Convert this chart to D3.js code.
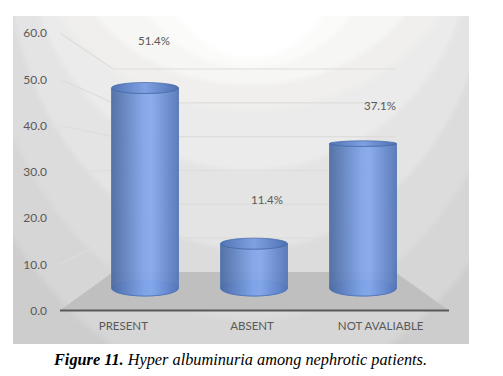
<!DOCTYPE html>
<html>
<head>
<meta charset="utf-8">
<script src="https://cdnjs.cloudflare.com/ajax/libs/d3/7.8.5/d3.min.js"></script>
<style>
  html, body { margin: 0; padding: 0; background: #fff; }
  svg { display: block; }
  text { font-family: Lato, "Open Sans", sans-serif; }
</style>
</head>
<body>
<div id="chart"></div>
<script>
const categories = ["PRESENT", "ABSENT", "NOT AVALIABLE"];
const percents = [51.4, 11.4, 37.1];
const yTicks = [0, 10, 20, 30, 40, 50, 60];

const width = 503, height = 376;

const svg = d3.select("#chart").append("svg")
    .attr("width", width)
    .attr("height", height);

const defs = svg.append("defs");

// scales: front plane (axis), back wall, and the plane the cylinders stand in
const yFront = d3.scaleLinear().domain([0, 60]).range([310.5, 33]);
const yBack = d3.scaleLinear().domain([0, 60]).range([272, 69]);
const yBar = d3.scaleLinear().domain([0, 60]).range([288, 54.5]);
const xLabel = d3.scaleBand().domain(categories).range([59, 445]);
const xBar = d3.scaleBand().domain(categories).range([90.5, 417.5]);
// ellipses get flatter near eye level
const tilt = d3.scaleLinear().domain([0, 11.4, 37.1, 51.4]).range([8, 5.5, 2.8, 5.5]);

// background: nested soft ellipses, the gradient in the original is banded
defs.append("clipPath").attr("id", "plot")
  .append("rect")
    .attr("x", 13).attr("y", 16)
    .attr("width", 456).attr("height", 328);
defs.append("filter").attr("id", "soft")
    .attr("filterUnits", "userSpaceOnUse")
    .attr("x", -100).attr("y", -100).attr("width", 700).attr("height", 600)
  .append("feGaussianBlur").attr("stdDeviation", 2.5);

const bands = [
  [316, 450, "#d6d6d6"],
  [277, 380, "#dcdcdc"],
  [244, 310, "#e3e4e3"],
  [222, 230, "#eaebea"],
  [212, 170, "#f0efed"],
  [181, 145, "#f6f6f4"],
  [125, 128, "#fbfbfa"],
  [95, 118, "#ffffff"]
];

const bgLayer = svg.append("g").attr("clip-path", "url(#plot)");
bgLayer.append("rect")
    .attr("x", 13).attr("y", 16)
    .attr("width", 456).attr("height", 328)
    .attr("fill", "#cdcdcd");
bgLayer.append("g")
    .attr("filter", "url(#soft)")
  .selectAll("ellipse")
  .data(bands)
  .join("ellipse")
    .attr("cx", 250).attr("cy", -60)
    .attr("rx", d => d[0]).attr("ry", d => d[1])
    .attr("fill", d => d[2]);

// floor
const fx0 = 60, fx1 = 449, bx0 = 113, bx1 = 395;
svg.append("path")
    .attr("d", d3.line()([[fx0, yFront(0)], [fx1, yFront(0)], [bx1, yBack(0)], [bx0, yBack(0)]]) + "Z")
    .attr("fill", "#bfbfbf");

// gridlines, running along side wall and back wall
svg.append("g").selectAll("path")
  .data(yTicks.slice(1))
  .join("path")
    .attr("d", d => d3.line()([[fx0, yFront(d)], [bx0, yBack(d)], [bx1, yBack(d)]]))
    .attr("fill", "none")
    .attr("stroke", "#dedddb")
    .attr("stroke-width", 1.2);

// value axis
svg.append("g")
    .attr("transform", "translate(47,0)")
    .call(d3.axisLeft(yFront).tickValues(yTicks).tickFormat(d3.format(".1f")).tickSize(0))
    .call(g => g.select(".domain").remove())
    .call(g => g.selectAll("text")
        .attr("x", 0)
        .attr("fill", "#595959")
        .attr("font-size", 12)
        .attr("font-family", "Lato, sans-serif"));

// category axis
svg.append("g")
    .attr("transform", `translate(0,${yFront(0)})`)
    .call(d3.axisBottom(xLabel).tickSize(0).tickPadding(11))
    .call(g => g.select(".domain").remove())
    .call(g => g.selectAll("text")
        .attr("fill", "#595959")
        .attr("font-size", 11.5)
        .attr("font-family", "Lato, sans-serif"));

svg.append("line")
    .attr("x1", fx0).attr("x2", fx1)
    .attr("y1", yFront(0)).attr("y2", yFront(0))
    .attr("stroke", "#595959")
    .attr("stroke-width", 2);

// cylinder fills
const side = defs.append("linearGradient").attr("id", "side");
[[0, "#4b6a9f"], [0.15, "#5b7cb9"], [0.48, "#80a4e8"], [0.6, "#85a8ec"], [0.85, "#6588cc"], [1, "#5274b6"]]
  .forEach(([o, c]) => side.append("stop").attr("offset", o).attr("stop-color", c));
const cap = defs.append("linearGradient").attr("id", "cap");
[[0, "#5174b4"], [0.5, "#7fa1e3"], [1, "#4e71b2"]]
  .forEach(([o, c]) => cap.append("stop").attr("offset", o).attr("stop-color", c));

const rx = 33.5;
const bars = svg.append("g").selectAll("g")
  .data(categories.map((c, i) => ({ cat: c, v: percents[i] })))
  .join("g")
    .attr("transform", d => `translate(${xBar(d.cat) + xBar.bandwidth() / 2},0)`);

bars.append("ellipse")
    .attr("cy", yBar(0))
    .attr("rx", rx).attr("ry", tilt(0))
    .attr("fill", "#6a8fd3")
    .attr("stroke", "#5a80c4")
    .attr("stroke-width", 0.7);

bars.append("path")
    .attr("d", d => {
      const t = yBar(d.v), b = yBar(0), r0 = tilt(0), r1 = tilt(d.v);
      return `M${-rx},${t}L${-rx},${b}A${rx},${r0} 0 0 0 ${rx},${b}L${rx},${t}A${rx},${r1} 0 0 1 ${-rx},${t}Z`;
    })
    .attr("fill", "url(#side)")
    .attr("fill-opacity", 0.93)
    .attr("stroke", "#4f74b4")
    .attr("stroke-width", 0.8);

bars.append("ellipse")
    .attr("cy", d => yBar(d.v))
    .attr("rx", rx).attr("ry", d => tilt(d.v))
    .attr("fill", "url(#cap)")
    .attr("stroke", "#3f65a8")
    .attr("stroke-width", 0.7);

// percent labels sit up and to the right of each cylinder top
const labelDx = [9, 13, 17];
const labelDy = [47, 44, 38];
svg.append("g").selectAll("text")
  .data(percents)
  .join("text")
    .attr("x", (d, i) => xBar(categories[i]) + xBar.bandwidth() / 2 + labelDx[i])
    .attr("y", (d, i) => yBar(d) - labelDy[i] + 4)
    .attr("text-anchor", "middle")
    .attr("fill", "#595959")
    .attr("font-size", 11.5)
    .text(d => d.toFixed(1) + "%");

// caption
const caption = svg.append("text")
    .attr("x", 54).attr("y", 365)
    .attr("fill", "#000")
    .attr("font-size", 16.3)
    .attr("font-style", "italic")
    .style("font-family", "'Liberation Serif', serif");
caption.append("tspan").attr("font-weight", "bold").text("Figure 11.");
caption.append("tspan").text(" Hyper albuminuria among nephrotic patients.");
</script>
</body>
</html>
